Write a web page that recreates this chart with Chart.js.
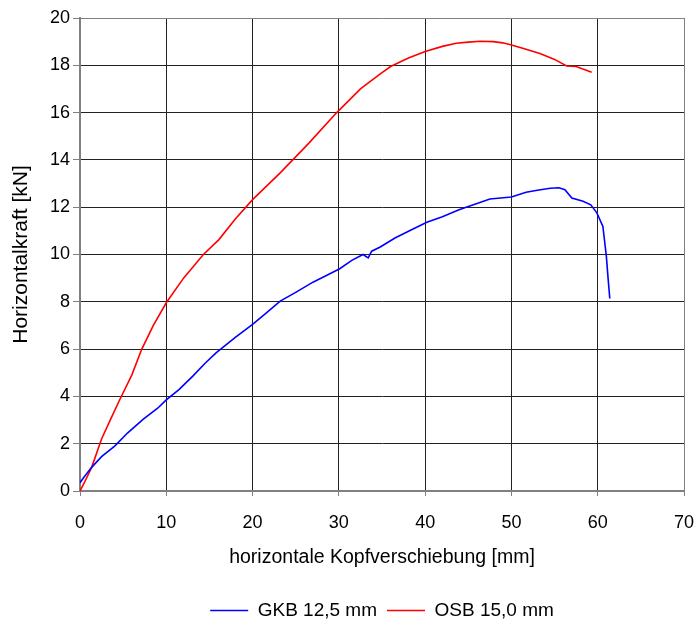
<!DOCTYPE html>
<html>
<head>
<meta charset="utf-8">
<script src="https://cdn.jsdelivr.net/npm/chart.js@4/dist/chart.umd.min.js"></script>
<style>
html,body{margin:0;padding:0;background:#fff;}
canvas{display:block;}
</style>
</head>
<body>
<canvas id="c" width="696" height="621"></canvas>
<script>
const seriesNames = ['GKB 12,5 mm', 'OSB 15,0 mm'];
const seriesColors = ['#0000ff', '#ff0000'];

const gkbX = [0, 0.5, 1.35, 2.5, 4.05, 5.5, 7.34, 9, 10, 11.5, 13.1, 14.5, 15.8, 18, 20, 21.5, 23.2, 25, 27, 28.5, 30.1, 31.5, 32.8, 33.4, 33.8, 34.8, 36.5, 38.6, 40.2, 42, 44, 46.35, 47.5, 50, 51.7, 53, 54.5, 55.5, 56.2, 57, 58.3, 59.2, 59.9, 60.6, 61.0, 61.2, 61.4];
const gkbY = [0.35, 0.6, 1.0, 1.45, 1.91, 2.45, 3.04, 3.5, 3.85, 4.3, 4.87, 5.4, 5.85, 6.5, 7.05, 7.5, 8.03, 8.4, 8.83, 9.1, 9.4, 9.75, 10.0, 9.86, 10.14, 10.32, 10.7, 11.08, 11.36, 11.6, 11.9, 12.2, 12.35, 12.43, 12.63, 12.72, 12.8, 12.82, 12.74, 12.39, 12.25, 12.1, 11.76, 11.19, 9.93, 9.0, 8.14];

const osbX = [0, 0.5, 1.35, 2.5, 3.5, 4.63, 6, 7.15, 8.5, 10, 12, 14.3, 16.1, 18, 20, 23.2, 26.5, 29.7, 32.5, 34.8, 36, 38, 40, 42, 43.6, 45, 46.4, 47.9, 49, 50, 51.5, 53.3, 55, 56.4, 57.5, 59.3];
const osbY = [0, 0.35, 1.0, 2.2, 3.0, 3.88, 4.9, 5.99, 7.0, 7.96, 9.0, 10.0, 10.63, 11.5, 12.32, 13.45, 14.7, 15.98, 17.0, 17.64, 17.95, 18.3, 18.58, 18.8, 18.93, 18.98, 19.02, 19.0, 18.95, 18.86, 18.7, 18.5, 18.25, 17.97, 17.95, 17.71];

const xTitle = 'horizontale Kopfverschiebung [mm]';
const yTitle = 'Horizontalkraft [kN]';
const xMin = 0, xMax = 70, xStep = 10;
const yMin = 0, yMax = 20, yStep = 2;

function pts(xs, ys){ return xs.map((x,i)=>({x:x, y:ys[i]})); }

const FONT = "'Liberation Sans', Arial, sans-serif";
Chart.defaults.font.family = FONT;
Chart.defaults.color = '#000';

function gridColor(ctx, max){
  return (ctx.tick && ctx.tick.value === max) ? '#808080' : '#222222';
}

new Chart(document.getElementById('c'), {
  type: 'scatter',
  data: {
    datasets: [
      {label: seriesNames[0], data: pts(gkbX, gkbY), showLine: true, borderColor: seriesColors[0], backgroundColor: seriesColors[0], borderWidth: 1.6, pointRadius: 0, tension: 0},
      {label: seriesNames[1], data: pts(osbX, osbY), showLine: true, borderColor: seriesColors[1], backgroundColor: seriesColors[1], borderWidth: 1.6, pointRadius: 0, tension: 0}
    ]
  },
  options: {
    responsive: false,
    animation: false,
    layout: {padding: {top: 18, right: 0, left: 0, bottom: -9}},
    plugins: {
      tooltip: {enabled: false},
      legend: {
        position: 'bottom',
        fullSize: false,
        labels: {
          usePointStyle: true,
          pointStyle: 'line',
          pointStyleWidth: 38,
          boxHeight: 2,
          padding: 10,
          font: {size: 19, family: FONT},
          color: '#000'
        }
      }
    },
    scales: {
      x: {
        type: 'linear',
        min: xMin, max: xMax,
        ticks: {stepSize: xStep, padding: 16, font: {size: 18, family: FONT}, color: '#000', maxRotation: 0},
        grid: {color: (c)=>gridColor(c, xMax), lineWidth: 1, tickLength: 5, tickColor: '#808080'},
        border: {color: '#808080', width: 2},
        title: {display: true, text: xTitle, font: {size: 19.5, family: FONT}, color: '#000', padding: {top: 0, bottom: 22}},
        afterFit: (s)=>{ s.height = 100; s.paddingRight = 12; }
      },
      y: {
        type: 'linear',
        min: yMin, max: yMax,
        ticks: {stepSize: yStep, padding: 3, font: {size: 18, family: FONT}, color: '#000'},
        grid: {color: (c)=>gridColor(c, yMax), lineWidth: 1, tickLength: 7, tickColor: '#808080'},
        border: {color: '#808080', width: 2},
        title: {display: true, text: yTitle, font: {size: 21, family: FONT}, color: '#000', padding: {top: 9, bottom: 0}},
        afterFit: (s)=>{ s.width = 80; }
      }
    }
  }
});
</script>
</body>
</html>
